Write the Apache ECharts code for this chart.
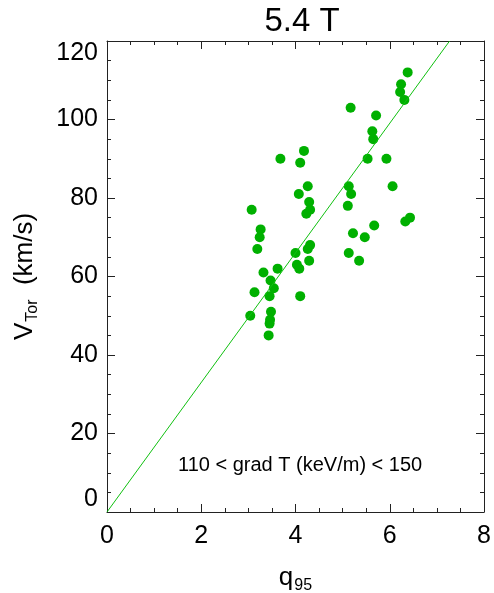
<!DOCTYPE html>
<html>
<head>
<meta charset="utf-8">
<script src="https://cdn.jsdelivr.net/npm/echarts@6/dist/echarts.min.js"></script>
<style>html,body{margin:0;padding:0;background:#fff}#c{width:494px;height:593px}</style>
</head>
<body>
<div id="c"></div>
<script>
const q95 = [6.38,6.24,6.22,6.31,5.17,5.71,5.63,5.65,3.68,4.18,4.10,5.53,5.93,4.26,4.07,5.13,5.18,6.06,5.11,3.07,4.29,4.31,4.23,6.33,6.43,3.26,3.24,5.67,5.22,5.47,3.19,4.31,4.26,4.00,4.29,5.13,5.35,4.03,4.08,3.62,3.32,3.47,3.54,3.45,3.13,4.10,3.04,3.48,3.46,3.45,3.43];
const vTor = [112,109,107,105,103,101,97,95,90,92,89,90,90,83,81,83,81,83,78,77,79,77,76,74,75,72,70,73,71,70,67,68,67,66,64,66,64,63,62,62,61,59,57,55,56,55,50,51,49,48,45];
const fitX = [0, 7.27];
const fitY = [0, 120];
const xTicks = [0,2,4,6,8];
const yTicks = [0,20,40,60,80,100,120];

const font = 'Liberation Sans, Arial, Helvetica, sans-serif';
const green = '#00b000';
const axisCol = '#222';

const baseAxis = (min,max,interval) => ({
  type:'value', min, max, interval,
  axisLine:{show:true, onZero:false, lineStyle:{color:axisCol,width:1}},
  axisTick:{show:true, inside:true, length:8, lineStyle:{color:axisCol}},
  minorTick:{show:true, splitNumber:4, length:4, lineStyle:{color:axisCol}},
  splitLine:{show:false}
});

const chart = echarts.init(document.getElementById('c'), null, {renderer:'canvas'});
chart.setOption({
  animation:false,
  backgroundColor:'#fff',
  title:{text:'5.4 T', left:297, top:0, textAlign:'center',
    textStyle:{fontFamily:font, fontSize:33, fontWeight:'normal', color:'#000'}},
  grid:{left:107, right:10, top:41, bottom:81, containLabel:false, outerBoundsMode:'none'},
  xAxis:[
    Object.assign(baseAxis(0,8,2), {position:'bottom',
      axisLabel:{fontFamily:font, fontSize:25, color:'#000', margin:12, formatter:v=>xTicks.includes(v)?String(v):''},
      name:'{m|q}{s|95}', nameLocation:'middle', nameGap:50,
      nameTextStyle:{rich:{m:{fontFamily:font,fontSize:26,color:'#000'}, s:{fontFamily:font,fontSize:16,color:'#000',padding:[16,0,0,1]}}}}),
    Object.assign(baseAxis(0,8,2), {position:'top', axisLabel:{show:false}})
  ],
  yAxis:[
    Object.assign(baseAxis(0,120,20), {position:'left',
      axisLabel:{fontFamily:font, fontSize:25, color:'#000', margin:9,
        verticalAlignMinLabel:'bottom', verticalAlignMaxLabel:'top',
        formatter:v=>yTicks.includes(v)?String(v):''},
      name:'{m|V}{s|Tor}{m|  (km/s)}', nameLocation:'middle', nameGap:66,
      nameTextStyle:{rich:{m:{fontFamily:font,fontSize:26,color:'#000'}, s:{fontFamily:font,fontSize:16,color:'#000',padding:[16,0,0,1]}}}}),
    Object.assign(baseAxis(0,120,20), {position:'right', axisLabel:{show:false}})
  ],
  graphic:[{type:'text', left:178, top:455,
    style:{text:'110 < grad T (keV/m) < 150', font:'20px '+font, fill:'#000'}}],
  series:[
    {type:'line', data:fitX.map((x,i)=>[x,fitY[i]]), symbol:'none', clip:true,
      lineStyle:{color:'#10c010', width:1}},
    {type:'scatter', data:q95.map((x,i)=>[x,vTor[i]]), symbol:'circle', symbolSize:10,
      itemStyle:{color:green, opacity:1}}
  ]
});
</script>
</body>
</html>
